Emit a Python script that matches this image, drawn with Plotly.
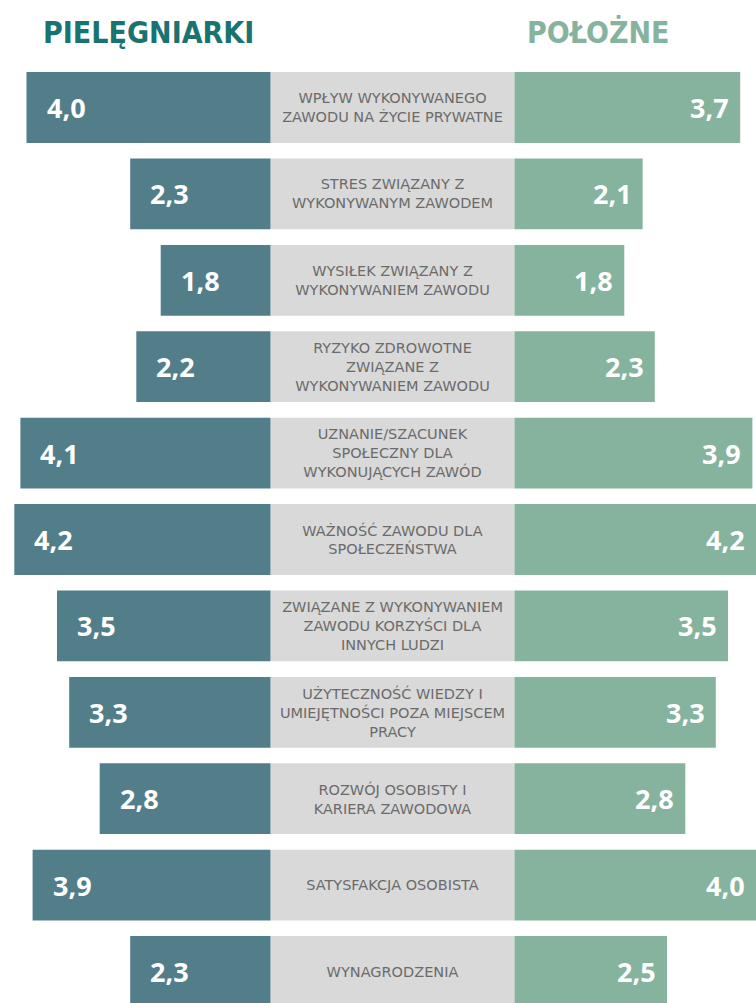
import plotly.graph_objects as go

# Data
categories = [
    "WPŁYW WYKONYWANEGO<br>ZAWODU NA ŻYCIE PRYWATNE",
    "STRES ZWIĄZANY Z<br>WYKONYWANYM ZAWODEM",
    "WYSIŁEK ZWIĄZANY Z<br>WYKONYWANIEM ZAWODU",
    "RYZYKO ZDROWOTNE<br>ZWIĄZANE Z<br>WYKONYWANIEM ZAWODU",
    "UZNANIE/SZACUNEK<br>SPOŁECZNY DLA<br>WYKONUJĄCYCH ZAWÓD",
    "WAŻNOŚĆ ZAWODU DLA<br>SPOŁECZEŃSTWA",
    "ZWIĄZANE Z WYKONYWANIEM<br>ZAWODU KORZYŚCI DLA<br>INNYCH LUDZI",
    "UŻYTECZNOŚĆ WIEDZY I<br>UMIEJĘTNOŚCI POZA MIEJSCEM<br>PRACY",
    "ROZWÓJ OSOBISTY I<br>KARIERA ZAWODOWA",
    "SATYSFAKCJA OSOBISTA",
    "WYNAGRODZENIA",
]
pielegniarki = [4.0, 2.3, 1.8, 2.2, 4.1, 4.2, 3.5, 3.3, 2.8, 3.9, 2.3]
polozne = [3.7, 2.1, 1.8, 2.3, 3.9, 4.2, 3.5, 3.3, 2.8, 4.0, 2.5]

HALF = 2.0  # half width of the grey label column, in value units
rows = list(range(len(categories)))

C_LEFT = "#527e8a"
C_RIGHT = "#86b39e"
C_MID = "#d9d9d9"

# pixel mapping: center of layout at 392.5 px, 61 px per unit; rows every 86.4 px from 107.5 px
px_unit = 61.0
cx = 392.5
row_px = 86.4
row0 = 107.5
XMIN = (0 - cx) / px_unit
XMAX = (756 - cx) / px_unit

fig = go.Figure()

# grey middle column with category names
fig.add_trace(go.Bar(
    y=rows, x=[2 * HALF] * len(rows), base=[-HALF] * len(rows),
    orientation="h", width=0.82, marker=dict(color=C_MID, line=dict(width=0)),
    text=categories, textposition="inside", insidetextanchor="middle",
    constraintext="none",
    textfont=dict(family="DejaVu Sans", size=14.5, color="#6b6b6b"),
    hoverinfo="skip", showlegend=False,
))
# left bars
fig.add_trace(go.Bar(
    y=rows, x=[-v for v in pielegniarki], base=[-HALF] * len(rows),
    orientation="h", width=0.82, marker=dict(color=C_LEFT, line=dict(width=0)),
    name="PIELĘGNIARKI", showlegend=False,
))
# right bars
fig.add_trace(go.Bar(
    y=rows, x=polozne, base=[HALF] * len(rows),
    orientation="h", width=0.82, marker=dict(color=C_RIGHT, line=dict(width=0)),
    name="POŁOŻNE", showlegend=False,
))

def fmt(v):
    return "<b>%s</b>" % f"{v:.1f}".replace(".", ",")

val_font = dict(family="Open Sans", size=27, color="white")
for i, v in enumerate(pielegniarki):
    fig.add_annotation(x=max(-HALF - v, XMIN), y=i, text=fmt(v), xanchor="left", xshift=18,
                       showarrow=False, font=val_font)
for i, v in enumerate(polozne):
    # bars running past the right edge get their label kept at the edge
    fig.add_annotation(x=min(HALF + v, XMAX - 1e-6), y=i, text=fmt(v), xanchor="right",
                       xshift=-9, showarrow=False, font=val_font)

title_font = "DejaVu Sans Condensed, sans-serif"
title_y = (32 - row0) / row_px
fig.add_annotation(x=148 / 756, xref="paper", xanchor="center", y=title_y, yref="y",
                   yanchor="middle", text="<b>PIELĘGNIARKI</b>", showarrow=False,
                   font=dict(family=title_font, size=30, color="#1a7370"))
fig.add_annotation(x=598 / 756, xref="paper", xanchor="center", y=title_y, yref="y",
                   yanchor="middle", text="<b>POŁOŻNE</b>", showarrow=False,
                   font=dict(family=title_font, size=30, color="#86b39e"))

fig.update_xaxes(range=[XMIN, XMAX], visible=False, fixedrange=True)
fig.update_yaxes(range=[(1003 - row0) / row_px, (0 - row0) / row_px], visible=False, fixedrange=True)

fig.update_layout(
    width=756, height=1003,
    margin=dict(l=0, r=0, t=0, b=0),
    barmode="overlay",
    plot_bgcolor="white", paper_bgcolor="white",
    showlegend=False,
)

fig.write_html("out.html", config={"displayModeBar": False},
               post_script="document.body.style.margin='0';document.body.style.overflow='hidden';")
